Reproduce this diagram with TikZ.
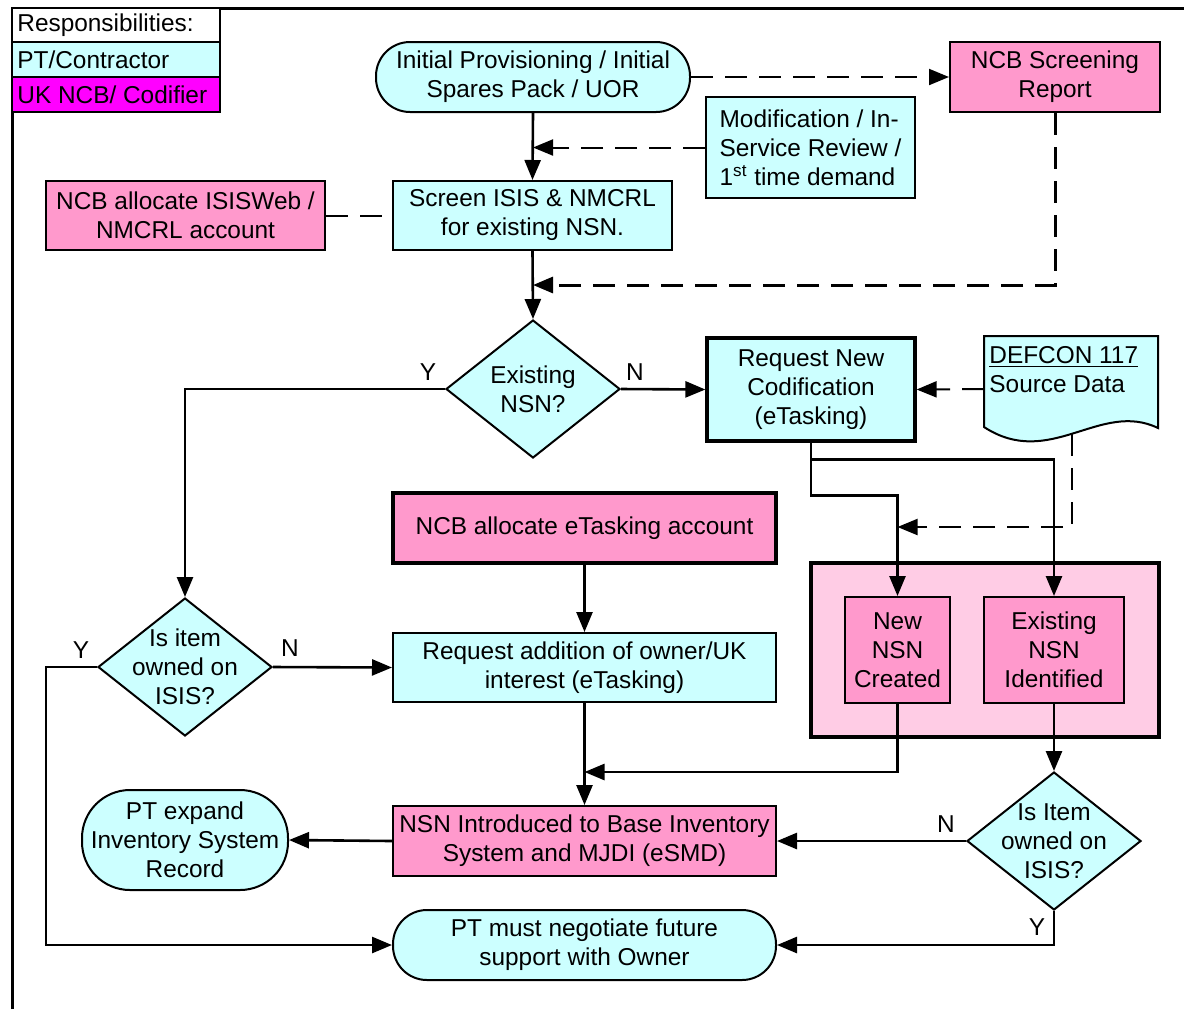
\documentclass[tikz,border=0pt]{standalone}
\usepackage{fontspec}
\setmainfont{Liberation Sans}
\usetikzlibrary{arrows.meta,shapes.geometric,calc}
\definecolor{cy}{RGB}{204,255,255}
\definecolor{pk}{RGB}{255,153,204}
\definecolor{lpk}{RGB}{255,204,229}
\definecolor{mg}{RGB}{255,0,255}
\begin{document}
\begin{tikzpicture}[x=0.5pt,y=-0.5pt,
 every node/.style={font=\fontsize{12.2}{14.5}\selectfont, inner sep=1pt},
 box/.style={draw, line width=1pt, align=center},
 cbox/.style={box, fill=cy},
 pbox/.style={box, fill=pk},
 thickbox/.style={line width=1.6pt},
 term/.style={cbox, rounded corners=17pt},
 dia/.style={diamond, draw, fill=cy, line width=1pt, minimum width=87pt, minimum height=69pt, inner sep=0pt},
 conn/.style={line width=1.3pt, -{Triangle[length=10pt,width=8pt]}},
 plain/.style={line width=1.3pt},
 dconn/.style={line width=1pt, dash pattern=on 11pt off 6pt, -{Triangle[length=10pt,width=8pt]}},
 dplain/.style={line width=1pt, dash pattern=on 11pt off 6pt},
 lab/.style={inner sep=0pt}
]
\useasboundingbox (0,0) rectangle (1184,1009);
% frame
\draw[line width=1.5pt] (12,1009) -- (12,8) -- (1184,8);
% legend
\draw[line width=1pt, fill=white] (12,8) rectangle (220,42);
\draw[line width=1pt, fill=cy] (12,42) rectangle (220,77);
\draw[line width=1pt, fill=mg] (12,77) rectangle (220,112);
\node[anchor=west] (lg1) at (15,25) {Responsibilities:};
\node[anchor=west] (lg2) at (15,59.5) {PT/Contractor};
\node[anchor=west] (lg3) at (15,94.5) {UK NCB/ Codifier};

% nodes
\node[term, minimum width=157pt, minimum height=35pt] (init) at (533,77) {Initial Provisioning / Initial\\Spares Pack / UOR};
\node[pbox, minimum width=105pt, minimum height=35pt] (ncbscr) at (1055,77) {NCB Screening\\Report};
\node[cbox, align=left, minimum width=104.5pt, minimum height=50.5pt] (mod) at (810.5,147.5) {Modification / In-\\Service Review /\\1\textsuperscript{st} time demand};
\node[cbox, minimum width=139.5pt, minimum height=34.5pt] (screen) at (532.5,215.5) {Screen ISIS \& NMCRL\\for existing NSN.};
\node[pbox, minimum width=139.5pt, minimum height=34.5pt] (ncbisis) at (185.5,215.5) {NCB allocate ISISWeb /\\NMCRL account};
\node[dia, label={[align=center]center:Existing\\NSN?}] (dia1) at (533,389) {};
\node[cbox, thickbox, minimum width=104pt, minimum height=51.5pt] (reqnew) at (811,389.5) {Request New\\Codification\\(eTasking)};
% document shape
\draw[line width=1pt, fill=cy] (984,336) -- (1158,336) -- (1158,428)
  .. controls (1100,400) and (1050,470) .. (984,427) -- cycle;
\node[anchor=north west, align=left] (deftext) at (987,344) {\underline{DEFCON 117}\\Source Data};
\coordinate (defleft) at (984,389);
\coordinate (defbot) at (1072,434);
\node[pbox, thickbox, minimum width=191.5pt, minimum height=35pt] (etask) at (584.5,528) {NCB allocate eTasking account};
\node[draw, line width=1.6pt, fill=lpk, minimum width=174pt, minimum height=87pt, inner sep=0pt] (grp) at (985,650) {};
\node[pbox, minimum width=52.5pt, minimum height=53pt] (newnsn) at (897.5,650) {New\\NSN\\Created};
\node[pbox, minimum width=70pt, minimum height=53pt] (exnsn) at (1054,650) {Existing\\NSN\\Identified};
\node[dia, label={[align=center]center:Is item\\owned on\\ISIS?}] (dia2) at (185,667) {};
\node[cbox, minimum width=191.5pt, minimum height=34.5pt] (reqadd) at (584.5,667.5) {Request addition of owner/UK\\interest (eTasking)};
\node[cbox, rounded corners=24pt, minimum width=103pt, minimum height=50pt] (ptexp) at (185,840) {PT expand\\Inventory System\\Record};
\node[pbox, minimum width=191.5pt, minimum height=35pt] (nsnintro) at (584.5,841) {NSN Introduced to Base Inventory\\System and MJDI (eSMD)};
\node[dia, label={[align=center]center:Is Item\\owned on\\ISIS?}] (dia3) at (1054,841) {};
\node[term, minimum width=191.5pt, minimum height=35pt] (ptneg) at (584.5,945) {PT must negotiate future\\support with Owner};

% connectors
\draw[conn] (init.south) -- (screen.north);
\draw[dconn] (init.east) -- (ncbscr.west);
\draw[dconn] (mod.west) -- (mod.west -| init.south);
\draw[dconn, line width=1.5pt] (ncbscr.south) |- (533,285);
\draw[dplain] (ncbisis.east) -- (screen.west);
\draw[conn] (screen.south) -- (dia1.north);
\draw[conn] (dia1.east) -- (reqnew.west);
\draw[conn] (dia1.west) -| (dia2.north);
\draw[dconn] (defleft) -- (reqnew.east);
\draw[conn] (reqnew.south) -- ++(0,53) -| (newnsn.north);
\draw[conn] (reqnew.south) -- ++(0,17) -| (exnsn.north);
\draw[dconn] (defbot) |- ($(newnsn.north)+(0,-69)$);
\draw[conn] (etask.south) -- (reqadd.north);
\draw[conn] (dia2.east) -- (reqadd.west);
\draw[conn] (dia2.west) -- ++(-51,0) |- (ptneg.west);
\draw[conn] (reqadd.south) -- (nsnintro.north);
\draw[conn] (newnsn.south) -- ++(0,68) coordinate (nj) -- (nj -| reqadd.south);
\draw[conn] (exnsn.south) -- (dia3.north);
\draw[conn] (dia3.west) -- (nsnintro.east);
\draw[conn] (dia3.south) |- (ptneg.east);
\draw[conn] (nsnintro.west) -- (ptexp.east);

% labels
\node[lab] (ly1) at (428,372) {Y};
\node[lab] (ln1) at (635,372) {N};
\node[lab] (ly2) at (81,650) {Y};
\node[lab] (ln2) at (290,648) {N};
\node[lab] (ln3) at (946,824) {N};
\node[lab] (ly3) at (1037,927) {Y};
\end{tikzpicture}
\end{document}
